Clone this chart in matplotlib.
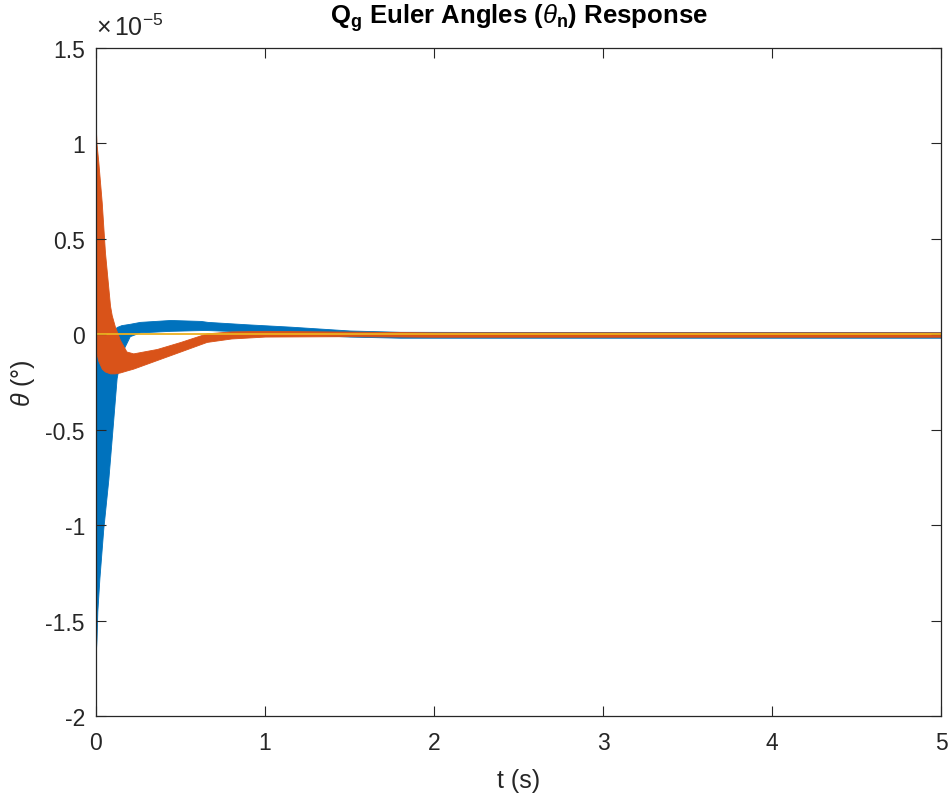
import numpy as np
import matplotlib
matplotlib.use("Agg")
import matplotlib.pyplot as plt

# values in units of 1e-5
# envelopes of the fast-oscillating responses
t_blue = [0, 0.003, 0.008, 0.02, 0.043, 0.073, 0.1, 0.122, 0.15, 0.2, 0.26, 0.44,
          0.62, 0.66, 0.9, 1.15, 1.5, 1.8, 2.5, 5.0]
blue_upper = [0.0, 0.0, 0.0, 0.0, 0.0, 0.0, 0.01, 0.038, 0.048, 0.055, 0.065, 0.075,
              0.07, 0.065, 0.052, 0.04, 0.02, 0.013, 0.012, 0.012]
blue_lower = [-1.65, -1.6, -1.45, -1.28, -1.02, -0.76, -0.47, -0.23, -0.1, -0.01, 0.01, 0.018,
              0.022, 0.022, 0.014, 0.002, -0.012, -0.018, -0.018, -0.018]

t_orange = [0, 0.003, 0.014, 0.034, 0.053, 0.083, 0.093, 0.112, 0.142, 0.18, 0.22, 0.36,
            0.5, 0.655, 0.8, 1.0, 1.5, 2.0, 5.0]
orange_upper = [1.06, 1.0, 0.90, 0.69, 0.43, 0.15, 0.10, 0.04, -0.03, -0.09, -0.10, -0.077,
                -0.04, 0.005, 0.015, 0.018, 0.014, 0.01, 0.01]
orange_lower = [-0.08, -0.1, -0.14, -0.18, -0.195, -0.205, -0.205, -0.205, -0.2, -0.19, -0.18, -0.135,
                -0.09, -0.04, -0.022, -0.012, -0.01, -0.013, -0.013]

t_yellow = [0, 5.0]
yellow = [0.0, 0.0]

x_ticks = [0, 1, 2, 3, 4, 5]
y_ticks = [-2, -1.5, -1, -0.5, 0, 0.5, 1, 1.5]

plt.rcParams['font.family'] = ['Liberation Sans', 'DejaVu Sans']
plt.rcParams['axes.unicode_minus'] = False
plt.rcParams['mathtext.fontset'] = 'custom'
plt.rcParams['mathtext.rm'] = 'Liberation Sans'
plt.rcParams['mathtext.it'] = 'Liberation Sans:italic'
plt.rcParams['mathtext.bf'] = 'Liberation Sans:bold'

gray = '#262626'
fig = plt.figure(figsize=(9.49, 8.04), dpi=100)
ax = fig.add_axes([96 / 949, 1 - 717 / 804, 845 / 949, 668 / 804])

ax.fill_between(t_blue, blue_lower, blue_upper, color='#0072BD', lw=0.6)
ax.fill_between(t_orange, orange_lower, orange_upper, color='#D95319', lw=0.6)
ax.plot(t_yellow, yellow, color='#EDB120', lw=1.3)

ax.set_xlim(0, 5)
ax.set_ylim(-2, 1.5)
ax.set_xticks(x_ticks)
ax.set_yticks(y_ticks)
ax.set_xticklabels([f'{v:g}' for v in x_ticks])
ax.set_yticklabels([f'{v:g}' for v in y_ticks])
ax.tick_params(direction='in', length=7, width=0.8, colors=gray, labelsize=16.5,
               top=True, right=True)
ax.tick_params(axis='x', pad=11)
ax.tick_params(axis='y', pad=8)
for s in ax.spines.values():
    s.set_color(gray)
    s.set_linewidth(0.9)

ax.set_xlabel('t (s)', fontsize=18, color=gray, labelpad=10)
ax.set_ylabel(r'$\theta$ (°)', fontsize=18, color=gray, labelpad=6)
ax.set_title(r'Q$_\mathbf{g}$ Euler Angles ($\theta_\mathbf{n}$) Response',
             fontsize=18.5, fontweight='bold', color='black', pad=18)
ax.text(0.0, 1.012, r'$\times\,$10$^{-5}$', transform=ax.transAxes,
        fontsize=18, color=gray, ha='left', va='bottom')

fig.savefig('out.png', dpi=100)
